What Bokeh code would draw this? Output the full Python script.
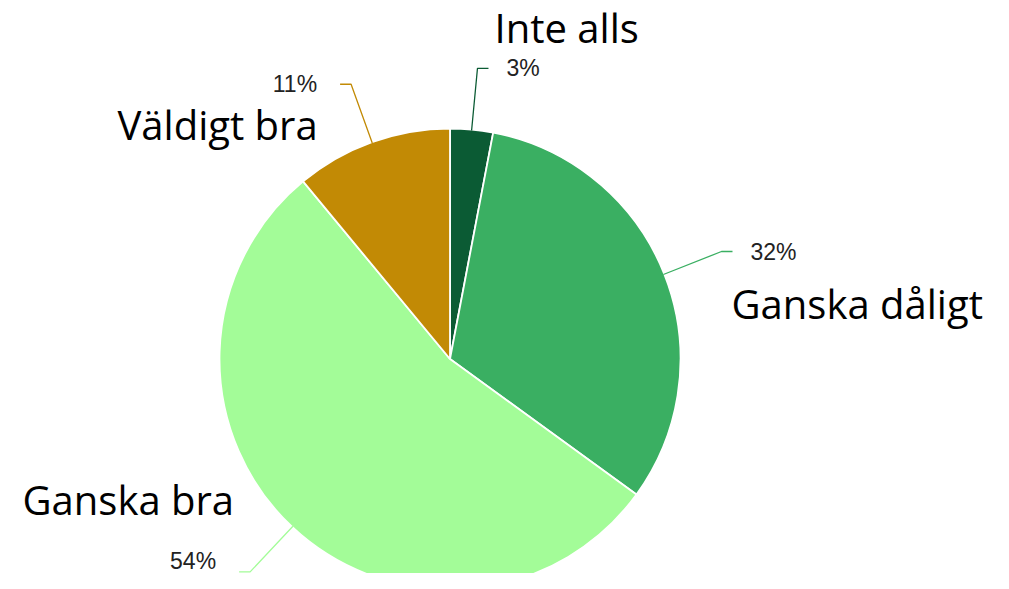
import math
from bokeh.plotting import figure
from bokeh.models import Range1d, ColumnDataSource
from bokeh.core.properties import value
from bokeh.embed import file_html
from bokeh.resources import INLINE

# ---- data ----
categories = ["Inte alls", "Ganska dåligt", "Ganska bra", "Väldigt bra"]
values = [3, 32, 54, 11]
colors = ["#0b5b34", "#3aaf62", "#a3fc98", "#c28a05"]
pct_labels = [f"{v}%" for v in values]

# big category label anchor positions (px from top-left; left edge, baseline)
cat_label_pos = [(494, 27), (731, 303), (22, 499), (117, 124)]

PW, PH = 993, 573

def sy(y):  # top-down px -> data y (y up)
    return PH - y

p = figure(width=PW, height=PH, output_backend="svg",
           toolbar_location=None, min_border=0,
           x_range=Range1d(0, PW), y_range=Range1d(0, PH))
p.axis.visible = False
p.grid.visible = False
p.outline_line_color = None
p.background_fill_color = "white"

cx, cy, r = 449.5, 358.5, 230.5
total = sum(values)
starts, ends, mids = [], [], []
acc = 0.0
for v in values:
    a0 = acc / total * 2 * math.pi
    acc += v
    a1 = acc / total * 2 * math.pi
    starts.append(math.pi / 2 - a0)
    ends.append(math.pi / 2 - a1)
    mids.append((a0 + a1) / 2)

src = ColumnDataSource(dict(start=starts, end=ends, color=colors))
p.wedge(x=cx, y=sy(cy), radius=r, start_angle="start", end_angle="end",
        direction="clock", fill_color="color", line_color="white",
        line_width=1.8, source=src)

# leader lines + percentage labels
r_in, r_el, hlen = 229.5, 292, 11
lx, ly, la, lt = [], [], [], []
for th, col, lab in zip(mids, colors, pct_labels):
    s, c = math.sin(th), math.cos(th)
    x0, y0 = cx + r_in * s, cy - r_in * c
    x1, y1 = cx + r_el * s, cy - r_el * c
    d = 1 if s >= 0 else -1
    x2 = x1 + d * hlen
    p.line([x0, x1, x2], [sy(y0), sy(y1), sy(y1)], line_color=col, line_width=1.3)
    lx.append(x2 + d * (18 if d > 0 else 23))
    ly.append(max(sy(y1), sy(560)))
    la.append("left" if d > 0 else "right")
    lt.append(lab)

p.text(x=lx, y=ly, text=lt, text_align=la, text_baseline="middle",
       text_font=value("Liberation Sans"), text_font_size="23px",
       text_color="#222222")

p.text(x=[q[0] for q in cat_label_pos], y=[sy(q[1]) for q in cat_label_pos],
       text=categories, text_align="left", text_baseline="alphabetic",
       text_font=value("Open Sans"), text_font_size="40px", text_color="#000000")

open("out.html", "w").write(file_html(p, INLINE))
